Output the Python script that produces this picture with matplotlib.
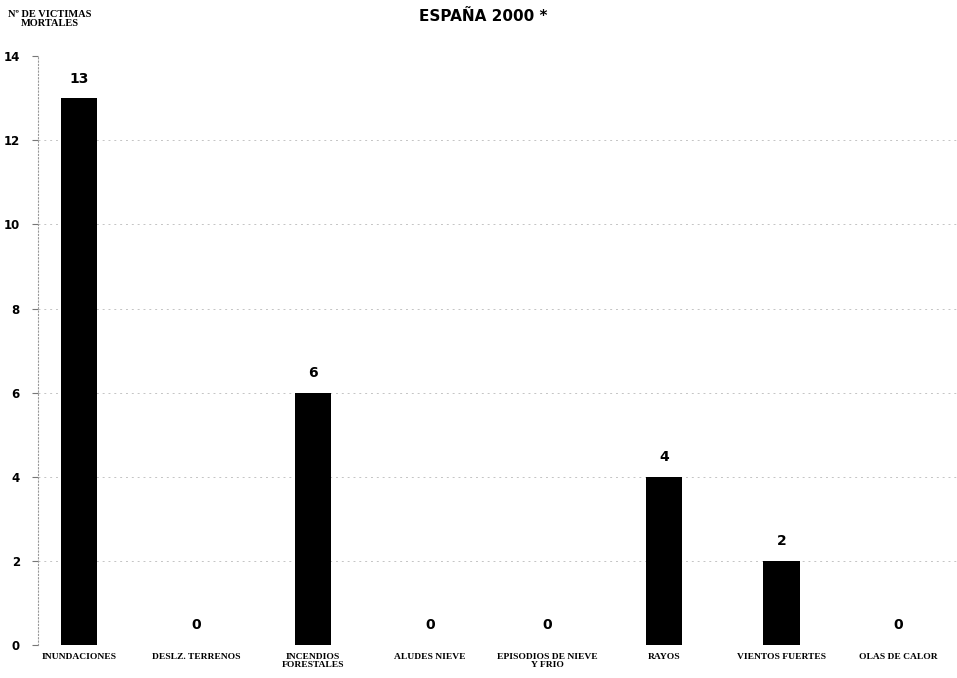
import matplotlib
matplotlib.use("Agg")
import matplotlib.pyplot as plt
import numpy as np

categories = ["INUNDACIONES", "DESLZ. TERRENOS", "INCENDIOS\nFORESTALES", "ALUDES NIEVE",
              "EPISODIOS DE NIEVE\nY FRIO", "RAYOS", "VIENTOS FUERTES", "OLAS DE CALOR"]
victims = [13, 0, 6, 0, 0, 4, 2, 0]
yticks = [0, 2, 4, 6, 8, 10, 12, 14]

fig = plt.figure(figsize=(9.57, 6.78), dpi=100)
ax = fig.add_axes([0.0397, 0.0487, 0.9603, 0.8683])

x = np.arange(len(categories))
ax.bar(x, victims, width=0.31, color="black", zorder=3)

for xi, v in zip(x, victims):
    ax.text(xi, v + 0.3, str(v), ha="center", va="bottom", fontsize=10,
            fontweight="bold", family="DejaVu Sans")

ax.set_xlim(-0.35, 7.5)
ax.set_ylim(0, 14)
ax.set_yticks(yticks)
ax.set_yticklabels([str(t) for t in yticks], fontsize=8.5, fontweight="bold")
ax.tick_params(axis="y", length=4, width=0.8, pad=9, colors="#777777", labelcolor="black")
ax.set_xticks(x)
ax.set_xticklabels(categories, fontsize=6.8, fontweight="bold", family="Liberation Serif",
                   va="top", linespacing=0.9)
ax.tick_params(axis="x", length=0, pad=6)

for t in yticks[1:-1]:
    ax.axhline(t, color="#c4c4c4", lw=0.7, ls=(0, (2, 4)), zorder=1)

for s in ["top", "right", "bottom"]:
    ax.spines[s].set_visible(False)
ax.spines["left"].set_linestyle((0, (1, 2)))
ax.spines["left"].set_color("#999999")
ax.spines["left"].set_linewidth(0.8)

fig.text(0.505, 0.987, "ESPAÑA 2000 *", ha="center", va="top", fontsize=11, fontweight="bold")
fig.text(0.052, 0.985, "Nº DE VICTIMAS\nMORTALES", ha="center", va="top", fontsize=7.5,
         fontweight="bold", family="Liberation Serif", linespacing=1.0)

fig.savefig("out.png", dpi=100)
